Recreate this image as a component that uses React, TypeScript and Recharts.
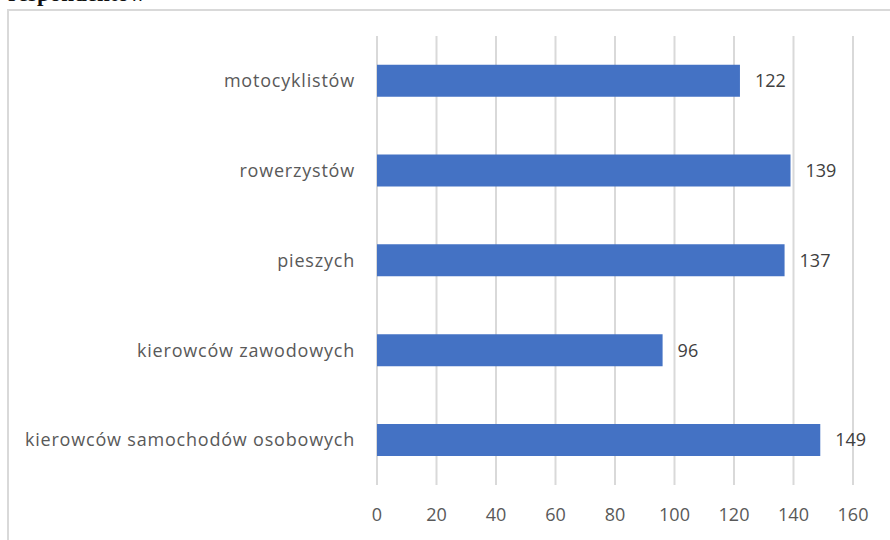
import { BarChart, Bar, XAxis, YAxis, CartesianGrid, LabelList } from 'recharts';

const categories = [
  'motocyklistów',
  'rowerzystów',
  'pieszych',
  'kierowców zawodowych',
  'kierowców samochodów osobowych',
];
const values = [122, 139, 137, 96, 149];
const xTicks = [0, 20, 40, 60, 80, 100, 120, 140, 160];

const data = categories.map((name, i) => ({ name, value: values[i] }));

const FONT = '"Open Sans", "Noto Sans", sans-serif';

export default function App() {
  return (
    <div
      style={{
        position: 'absolute',
        left: 0,
        top: 0,
        width: 890,
        height: 540,
        overflow: 'hidden',
        background: '#fff',
      }}
    >
      {/* caption above the chart, cut off by the page top as in the original */}
      <div
        style={{
          position: 'absolute',
          left: 8,
          top: -19,
          fontFamily: '"Liberation Serif", serif',
          fontWeight: 'bold',
          fontSize: 23,
          color: '#111',
          whiteSpace: 'nowrap',
        }}
      >
        respondentów
      </div>
      <div
        style={{
          position: 'absolute',
          left: 7,
          top: 9,
          width: 900,
          height: 600,
          border: '2px solid #d9d9d9',
        }}
      />
      <div style={{ position: 'absolute', left: 0, top: 0 }}>
        <BarChart
          width={890}
          height={540}
          data={data}
          layout="vertical"
          margin={{ top: 36, right: 37, bottom: 0, left: 0 }}
          barCategoryGap="32%"
        >
          <CartesianGrid vertical horizontal={false} stroke="#d9d9d9" strokeWidth={2} />
          <XAxis
            type="number"
            domain={[0, 160]}
            ticks={xTicks}
            height={55}
            axisLine={false}
            tickLine={false}
            tickSize={0}
            tickMargin={23}
            tick={{ fill: '#595959', fontSize: 18, fontFamily: FONT }}
          />
          <YAxis
            type="category"
            dataKey="name"
            width={377}
            axisLine={false}
            tickLine={false}
            tickSize={0}
            tickMargin={22}
            tick={{ fill: '#595959', fontSize: 18, fontFamily: FONT, letterSpacing: 0.8 }}
          />
          <Bar dataKey="value" fill="#4472C4" isAnimationActive={false}>
            <LabelList
              dataKey="value"
              position="right"
              offset={15}
              fill="#404040"
              fontSize={18}
              fontFamily={FONT}
            />
          </Bar>
        </BarChart>
      </div>
    </div>
  );
}
